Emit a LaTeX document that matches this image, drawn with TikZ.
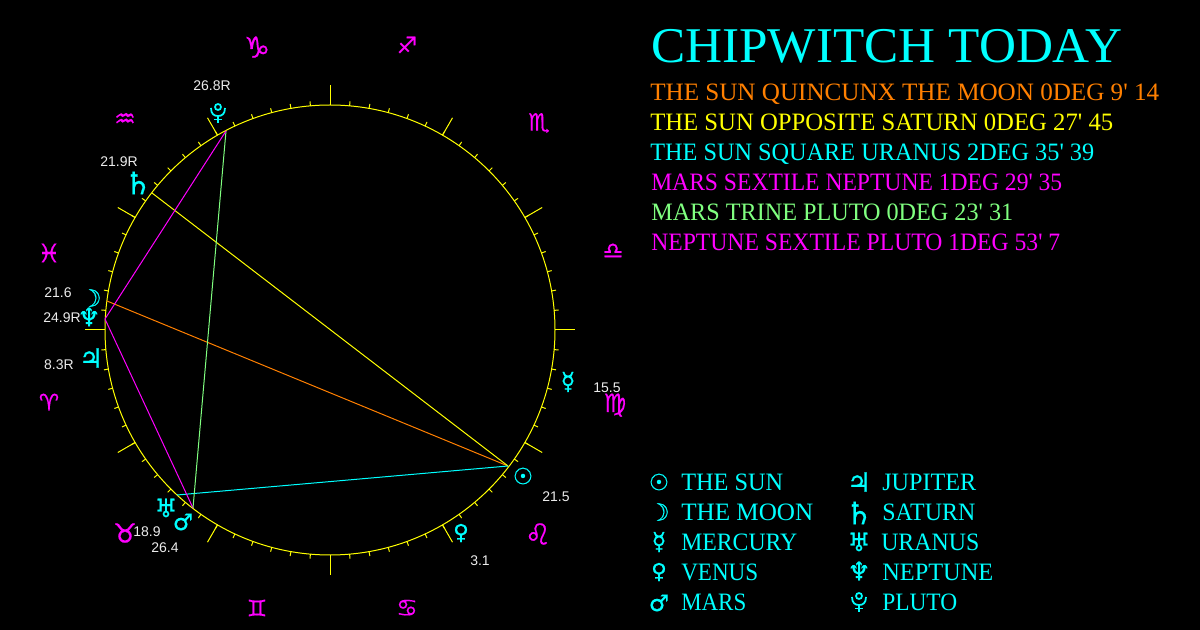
\documentclass[tikz,border=0pt]{standalone}
\usepackage{fontspec}
\usepackage{graphicx}
\setmainfont{Liberation Sans}
\newfontfamily\headf{Liberation Serif}
\newfontfamily\symf[FakeBold=0.5]{DejaVu Sans}
\newdimen\pxu \pxu=0.75pt
\newcommand{\fitw}[2]{\resizebox{#1\pxu}{\height}{#2}}
\definecolor{acyan}{RGB}{0,255,255}
\definecolor{ayellow}{RGB}{255,255,0}
\definecolor{amagenta}{RGB}{255,0,255}
\definecolor{aspgreen}{RGB}{128,255,128}
\definecolor{asporange}{RGB}{255,128,0}
\definecolor{labelgray}{RGB}{235,235,235}
\definecolor{bgblack}{RGB}{0,0,0}
\tikzset{
  ring/.style={ayellow,line width=0.75pt},
  aspect/.style={line width=0.75pt},
  title/.style={anchor=base west,inner sep=0pt,text=acyan,font=\headf\fontsize{37.5pt}{40pt}\selectfont},
  aspecttext/.style={anchor=base west,inner sep=0pt,font=\headf\fontsize{18.75pt}{20pt}\selectfont},
  legendtext/.style={anchor=base west,inner sep=0pt,text=acyan,font=\headf\fontsize{18.75pt}{20pt}\selectfont},
  planet/.style={inner sep=0pt,text=acyan,font=\symf\fontsize{#1pt}{#1pt}\selectfont},
  sign/.style={inner sep=0pt,text=amagenta,font=\symf\fontsize{#1pt}{#1pt}\selectfont},
  degree/.style={inner sep=0pt,text=labelgray,font=\fontsize{10.5pt}{12pt}\selectfont},
  plutostroke/.style={acyan,line width=1.3pt},
  pics/plutosign/.style={code={
    \draw[plutostroke] (0,-6) circle [radius=3];
    \draw[plutostroke] (-7,-5) .. controls (-7,1) and (-4,3) .. (0,3) .. controls (4,3) and (7,1) .. (7,-5);
    \draw[plutostroke] (0,3) -- (0,10);
    \draw[plutostroke] (-4,6.5) -- (4,6.5);
  }},
}
\begin{document}
\begin{tikzpicture}[x=0.75pt,y=-0.75pt]
\fill[bgblack] (0,0) rectangle (1200,630);
% wheel
\coordinate (c) at (330,330);
\draw[ring] (c) circle [radius=225];
\foreach \a in {0,5,...,355}{\draw[ring,shift={(c)}] (\a:225) -- (\a:229.5);}
\foreach \a in {0,30,...,330}{\draw[ring,shift={(c)}] (\a:225) -- (\a:245);}
% aspect end points
\coordinate (sunpt) at (508,466);
\coordinate (moonpt) at (107,301);
\coordinate (neppt) at (105,319);
\coordinate (satpt) at (152,193);
\coordinate (urapt) at (177,495);
\coordinate (marpt) at (193,508);
\coordinate (plupt) at (226,131);
\draw[aspect,asporange] (sunpt) -- (moonpt);
\draw[aspect,ayellow] (sunpt) -- (satpt);
\draw[aspect,acyan] (sunpt) -- (urapt);
\draw[aspect,amagenta] (marpt) -- (neppt);
\draw[aspect,aspgreen] (marpt) -- (plupt);
\draw[aspect,amagenta] (neppt) -- (plupt);
% signs
\node[sign=22] (capricorn) at (257,47) {♑};
\node[sign=17] (sagittarius) at (407,45) {♐};
\node[sign=18] (scorpio) at (539,123) {♏};
\node[sign=17] (libra) at (613,251) {♎};
\node[sign=19] (virgo) at (615,405) {♍};
\node[sign=22] (leo) at (538,534) {♌};
\node[sign=18] (cancer) at (407,608) {♋};
\node[sign=17] (gemini) at (257,608) {♊};
\node[sign=20] (taurus) at (125,533) {♉};
\node[sign=17] (aries) at (49,402) {♈};
\node[sign=19] (pisces) at (49,253) {♓};
\node[sign=18] (aquarius) at (125,120) {♒};
% planets on the wheel
\node[planet=18] (moon) at (91,298) {☽};
\node[planet=19] (neptune) at (89,317) {♆};
\node[planet=20] (jupiter) at (91,358) {♃};
\node[planet=23] (saturn) at (138,183) {♄};
\pic at (218,113) {plutosign};
\node[planet=19] (uranus) at (166,508) {♅};
\node[planet=17] (mars) at (183,522) {♂};
\node[planet=17] (sun) at (523,476) {☉};
\node[planet=16] (venus) at (461,533) {♀};
\node[planet=18] (mercury) at (568,382) {☿};
% degrees
\node[degree] (dmoon) at (58,293) {21.6};
\node[degree] (dnep) at (62,318) {24.9R};
\node[degree] (djup) at (59,365) {8.3R};
\node[degree] (dplu) at (212,86) {26.8R};
\node[degree] (dsat) at (119,162) {21.9R};
\node[degree] (dura) at (147,532) {18.9};
\node[degree] (dmar) at (165,548) {26.4};
\node[degree] (dmer) at (607,388) {15.5};
\node[degree] (dsun) at (556,497) {21.5};
\node[degree] (dven) at (480,561) {3.1};
% heading
\node[title] (head) at (651,63) {\fitw{471}{CHIPWITCH TODAY}};
\node[aspecttext,text=asporange] (a1) at (650,101) {\fitw{509}{THE SUN QUINCUNX THE MOON 0DEG 9' 14}};
\node[aspecttext,text=ayellow] (a2) at (650,131) {\fitw{463}{THE SUN OPPOSITE SATURN 0DEG 27' 45}};
\node[aspecttext,text=acyan] (a3) at (650,161) {\fitw{444}{THE SUN SQUARE URANUS 2DEG 35' 39}};
\node[aspecttext,text=amagenta] (a4) at (651,191) {\fitw{411}{MARS SEXTILE NEPTUNE 1DEG 29' 35}};
\node[aspecttext,text=aspgreen] (a5) at (651,221) {\fitw{362}{MARS TRINE PLUTO 0DEG 23' 31}};
\node[aspecttext,text=amagenta] (a6) at (651,251) {\fitw{409}{NEPTUNE SEXTILE PLUTO 1DEG 53' 7}};
% legend
\node[planet=17] (lsun) at (659,482) {☉};
\node[planet=18] (lmoon) at (659,512) {☽};
\node[planet=18] (lmer) at (659,542) {☿};
\node[planet=16] (lven) at (659,572) {♀};
\node[planet=17] (lmar) at (659,603) {♂};
\node[planet=20] (ljup) at (859,482) {♃};
\node[planet=23] (lsat) at (859,513) {♄};
\node[planet=19] (lura) at (859,542) {♅};
\node[planet=19] (lnep) at (859,571) {♆};
\pic at (859,602) {plutosign};
\node[legendtext] (t1) at (681,491) {\fitw{102}{THE SUN}};
\node[legendtext] (t2) at (681,521) {\fitw{132}{THE MOON}};
\node[legendtext] (t3) at (681,551) {\fitw{116}{MERCURY}};
\node[legendtext] (t4) at (681,581) {\fitw{77}{VENUS}};
\node[legendtext] (t5) at (681,611) {\fitw{65}{MARS}};
\node[legendtext] (t6) at (882,491) {\fitw{94}{JUPITER}};
\node[legendtext] (t7) at (882,521) {\fitw{93}{SATURN}};
\node[legendtext] (t8) at (881,551) {\fitw{98}{URANUS}};
\node[legendtext] (t9) at (882,581) {\fitw{111}{NEPTUNE}};
\node[legendtext] (t10) at (882,611) {\fitw{75}{PLUTO}};
\end{tikzpicture}
\end{document}
